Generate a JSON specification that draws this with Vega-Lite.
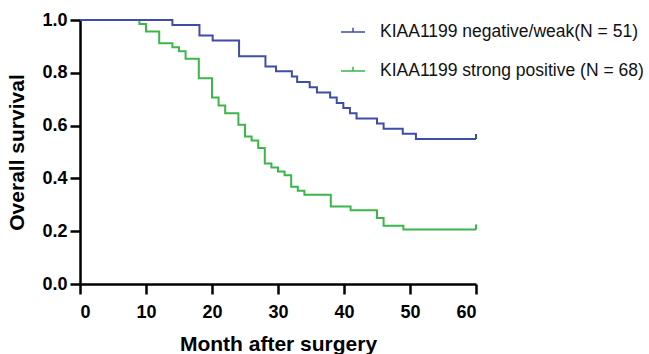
{
  "$schema": "https://vega.github.io/schema/vega-lite/v6.json",
  "width": 396,
  "height": 264,
  "autosize": {"type": "none"},
  "padding": {"left": 80, "top": 20, "right": 173, "bottom": 70},
  "background": "white",
  "config": {
    "view": {"stroke": null},
    "font": "Liberation Sans",
    "axis": {
      "grid": false,
      "domainColor": "#000000",
      "domainWidth": 2.5,
      "tickColor": "#000000",
      "tickWidth": 2.5,
      "tickSize": 10,
      "labelFont": "Liberation Sans",
      "labelFontWeight": "bold",
      "labelFontSize": 18,
      "labelColor": "#000000",
      "titleFont": "Liberation Sans",
      "titleFontWeight": "bold",
      "titleFontSize": 21,
      "titleColor": "#000000"
    }
  },
  "datasets": {
    "km": [
      {"group": "KIAA1199 strong positive (N = 68)", "month": 0, "survival": 1.0},
      {"group": "KIAA1199 strong positive (N = 68)", "month": 9.0, "survival": 0.985},
      {"group": "KIAA1199 strong positive (N = 68)", "month": 10.0, "survival": 0.956},
      {"group": "KIAA1199 strong positive (N = 68)", "month": 12.0, "survival": 0.912},
      {"group": "KIAA1199 strong positive (N = 68)", "month": 14.0, "survival": 0.897},
      {"group": "KIAA1199 strong positive (N = 68)", "month": 15.0, "survival": 0.882},
      {"group": "KIAA1199 strong positive (N = 68)", "month": 16.0, "survival": 0.853},
      {"group": "KIAA1199 strong positive (N = 68)", "month": 18.0, "survival": 0.779},
      {"group": "KIAA1199 strong positive (N = 68)", "month": 20.0, "survival": 0.706},
      {"group": "KIAA1199 strong positive (N = 68)", "month": 21.0, "survival": 0.676},
      {"group": "KIAA1199 strong positive (N = 68)", "month": 22.0, "survival": 0.647},
      {"group": "KIAA1199 strong positive (N = 68)", "month": 24.0, "survival": 0.603},
      {"group": "KIAA1199 strong positive (N = 68)", "month": 25.0, "survival": 0.559},
      {"group": "KIAA1199 strong positive (N = 68)", "month": 26.0, "survival": 0.544},
      {"group": "KIAA1199 strong positive (N = 68)", "month": 27.0, "survival": 0.515},
      {"group": "KIAA1199 strong positive (N = 68)", "month": 28.0, "survival": 0.456},
      {"group": "KIAA1199 strong positive (N = 68)", "month": 29.0, "survival": 0.441},
      {"group": "KIAA1199 strong positive (N = 68)", "month": 30.0, "survival": 0.426},
      {"group": "KIAA1199 strong positive (N = 68)", "month": 31.0, "survival": 0.412},
      {"group": "KIAA1199 strong positive (N = 68)", "month": 32.0, "survival": 0.368},
      {"group": "KIAA1199 strong positive (N = 68)", "month": 33.0, "survival": 0.353},
      {"group": "KIAA1199 strong positive (N = 68)", "month": 34.0, "survival": 0.338},
      {"group": "KIAA1199 strong positive (N = 68)", "month": 38.0, "survival": 0.294},
      {"group": "KIAA1199 strong positive (N = 68)", "month": 41.0, "survival": 0.279},
      {"group": "KIAA1199 strong positive (N = 68)", "month": 45.0, "survival": 0.25},
      {"group": "KIAA1199 strong positive (N = 68)", "month": 46.0, "survival": 0.221},
      {"group": "KIAA1199 strong positive (N = 68)", "month": 49.0, "survival": 0.206},
      {"group": "KIAA1199 strong positive (N = 68)", "month": 60.0, "survival": 0.206},
      {"group": "KIAA1199 negative/weak(N = 51)", "month": 0, "survival": 1.0},
      {"group": "KIAA1199 negative/weak(N = 51)", "month": 14.0, "survival": 0.981},
      {"group": "KIAA1199 negative/weak(N = 51)", "month": 18.1, "survival": 0.941},
      {"group": "KIAA1199 negative/weak(N = 51)", "month": 20.1, "survival": 0.922},
      {"group": "KIAA1199 negative/weak(N = 51)", "month": 24.1, "survival": 0.863},
      {"group": "KIAA1199 negative/weak(N = 51)", "month": 28.1, "survival": 0.824},
      {"group": "KIAA1199 negative/weak(N = 51)", "month": 29.7, "survival": 0.806},
      {"group": "KIAA1199 negative/weak(N = 51)", "month": 32.1, "survival": 0.786},
      {"group": "KIAA1199 negative/weak(N = 51)", "month": 32.9, "survival": 0.765},
      {"group": "KIAA1199 negative/weak(N = 51)", "month": 34.8, "survival": 0.745},
      {"group": "KIAA1199 negative/weak(N = 51)", "month": 35.9, "survival": 0.725},
      {"group": "KIAA1199 negative/weak(N = 51)", "month": 37.9, "survival": 0.706},
      {"group": "KIAA1199 negative/weak(N = 51)", "month": 38.9, "survival": 0.686},
      {"group": "KIAA1199 negative/weak(N = 51)", "month": 39.9, "survival": 0.667},
      {"group": "KIAA1199 negative/weak(N = 51)", "month": 40.9, "survival": 0.647},
      {"group": "KIAA1199 negative/weak(N = 51)", "month": 41.9, "survival": 0.627},
      {"group": "KIAA1199 negative/weak(N = 51)", "month": 45.0, "survival": 0.608},
      {"group": "KIAA1199 negative/weak(N = 51)", "month": 46.0, "survival": 0.588},
      {"group": "KIAA1199 negative/weak(N = 51)", "month": 48.9, "survival": 0.569},
      {"group": "KIAA1199 negative/weak(N = 51)", "month": 50.9, "survival": 0.549},
      {"group": "KIAA1199 negative/weak(N = 51)", "month": 60.0, "survival": 0.549}
    ],
    "censor": [
      {"group": "KIAA1199 negative/weak(N = 51)", "month": 60.0, "survival": 0.549},
      {"group": "KIAA1199 strong positive (N = 68)", "month": 60.0, "survival": 0.206}
    ]
  },
  "layer": [
    {
      "data": {"name": "km"},
      "mark": {"type": "line", "interpolate": "step-after", "strokeWidth": 2},
      "encoding": {
        "x": {
          "field": "month", "type": "quantitative",
          "scale": {"domain": [0, 60], "nice": false},
          "axis": {"values": [0, 10, 20, 30, 40, 50, 60], "title": "Month after surgery", "labelPadding": 9, "titlePadding": 12}
        },
        "y": {
          "field": "survival", "type": "quantitative",
          "scale": {"domain": [0, 1], "nice": false},
          "axis": {"values": [0, 0.2, 0.4, 0.6, 0.8, 1.0], "format": ".1f", "title": "Overall survival", "labelPadding": 3, "titlePadding": 14}
        },
        "color": {
          "field": "group", "type": "nominal",
          "scale": {
            "domain": ["KIAA1199 negative/weak(N = 51)", "KIAA1199 strong positive (N = 68)"],
            "range": ["#3F4DA8", "#3DB649"]
          },
          "legend": {
            "orient": "none",
            "legendX": 260,
            "legendY": -1,
            "title": null,
            "padding": 0,
            "symbolType": "M-1,0L1,0M0,0L0,-0.35",
            "symbolSize": 576,
            "symbolStrokeWidth": 1.5,
            "symbolFillColor": "transparent",
            "labelFont": "Liberation Sans",
            "labelFontSize": 17.5,
            "labelColor": "#111111",
            "labelOffset": 14,
            "rowPadding": 17,
            "labelLimit": 400
          }
        }
      }
    },
    {
      "data": {"name": "censor"},
      "mark": {"type": "point", "shape": "M0,0L0,-1", "size": 100, "strokeWidth": 2, "filled": false, "opacity": 1},
      "encoding": {
        "x": {"field": "month", "type": "quantitative"},
        "y": {"field": "survival", "type": "quantitative"},
        "color": {"field": "group", "type": "nominal"}
      }
    }
  ]
}
